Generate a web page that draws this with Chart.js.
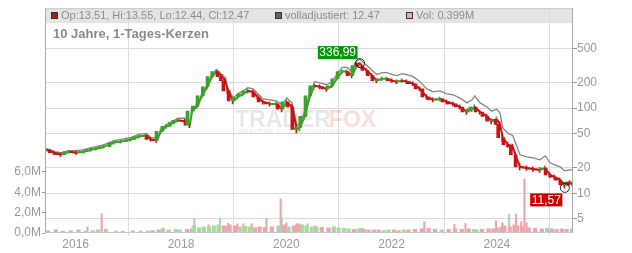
<!DOCTYPE html>
<html>
<head>
<meta charset="utf-8">
<script src="https://cdn.jsdelivr.net/npm/chart.js@4.4.1/dist/chart.umd.min.js"></script>
<style>
  html, body { margin: 0; padding: 0; background: #fff; }
  #wrap { width: 632px; height: 253px; }
</style>
</head>
<body>
<div id="wrap"><canvas id="chart" width="632" height="253"></canvas></div>
<script>
const dates = [
  2015.44, 2015.59, 2015.72, 2015.87,
  2016.02, 2016.16, 2016.29, 2016.39, 2016.54, 2016.73, 2016.86,
  2017.05, 2017.20, 2017.34, 2017.43, 2017.54, 2017.62, 2017.73, 2017.87, 2017.94,
  2018.08, 2018.17, 2018.21, 2018.31, 2018.40, 2018.50, 2018.59, 2018.68, 2018.78, 2018.84, 2018.89, 2018.99,
  2019.08, 2019.18, 2019.27, 2019.37, 2019.46, 2019.56, 2019.69, 2019.82, 2019.92,
  2020.01, 2020.11, 2020.20, 2020.26, 2020.35, 2020.45, 2020.54, 2020.64, 2020.77, 2020.87, 2020.96,
  2021.06, 2021.15, 2021.25, 2021.34, 2021.40, 2021.44, 2021.53, 2021.63, 2021.72, 2021.82, 2021.91,
  2022.01, 2022.10, 2022.20, 2022.29, 2022.41, 2022.54, 2022.67, 2022.79, 2022.92,
  2023.05, 2023.17, 2023.30, 2023.43, 2023.53, 2023.58, 2023.68, 2023.81, 2023.90,
  2024.00, 2024.06, 2024.11, 2024.21, 2024.30, 2024.35, 2024.44, 2024.57, 2024.69, 2024.82, 2024.92,
  2025.01, 2025.10, 2025.20, 2025.29, 2025.39, 2025.44
];
const closes = [
  32.5, 29.9, 28.3, 30.8,
  29.9, 30.8, 32.5, 33.4, 35.3, 39.4, 40.5,
  42.8, 46.4, 47.7, 42.8, 41.6, 53.2, 61.1, 68.1, 72,
  70, 62.8, 92, 105.6, 139, 178, 234, 268, 234, 210, 159, 121,
  135, 147, 159, 155, 135, 118, 112, 112, 97,
  118, 103, 56, 59.4, 80, 139, 183, 178, 168, 183, 221,
  268, 268, 240, 316, 337, 308, 276, 240, 210, 221, 221,
  210, 204, 210, 204, 193, 168, 135, 125, 128,
  118, 112, 103, 90, 97, 103, 90, 80, 70,
  74, 64.5, 45, 37.3, 35.3, 28.3, 20.4, 19.8, 19.3, 18.8, 19.8,
  16.4, 15.5, 14.3, 12.5, 13.5, 12.47
];
// Tageshoch / -tief im Umfeld des jeweiligen Punktes
const highs = [
  34.0, 31.5, 29.8, 32.0,
  31.2, 32.0, 33.8, 34.8, 36.8, 41.0, 42.0,
  44.5, 48.5, 49.5, 45.0, 43.5, 55.5, 64.0, 71.0, 75.0,
  74.0, 67.0, 97.0, 111.0, 147.0, 188.0, 246.0, 285.0, 248.0, 222.0, 170.0, 130.0,
  142.0, 155.0, 167.0, 163.0, 142.0, 124.0, 118.0, 118.0, 104.0,
  124.0, 110.0, 62.0, 64.0, 86.0, 148.0, 192.0, 187.0, 177.0, 192.0, 232.0,
  282.0, 281.0, 253.0, 330.0, 345.0, 322.0, 290.0, 252.0, 221.0, 231.0, 231.0,
  220.0, 214.0, 220.0, 214.0, 203.0, 177.0, 143.0, 132.0, 135.0,
  125.0, 118.0, 109.0, 95.0, 103.0, 109.0, 95.0, 85.0, 75.0,
  79.0, 69.0, 49.0, 40.0, 37.8, 30.5, 22.0, 21.0, 20.5, 20.0, 21.0,
  17.4, 16.4, 15.2, 13.3, 14.2, 13.55
];
const lows = [
  31.0, 28.4, 27.0, 29.4,
  28.5, 29.5, 31.0, 32.0, 33.8, 37.6, 38.8,
  41.0, 44.4, 45.6, 40.8, 39.6, 50.6, 58.0, 65.0, 68.5,
  66.0, 59.0, 86.0, 100.0, 131.0, 168.0, 221.0, 252.0, 220.0, 198.0, 148.0, 112.0,
  127.0, 139.0, 150.0, 146.0, 127.0, 111.0, 105.0, 105.0, 90.0,
  111.0, 96.0, 51.0, 54.0, 74.0, 130.0, 173.0, 168.0, 158.0, 173.0, 209.0,
  254.0, 254.0, 227.0, 300.0, 320.0, 294.0, 262.0, 228.0, 199.0, 210.0, 210.0,
  200.0, 194.0, 200.0, 194.0, 183.0, 159.0, 127.0, 118.0, 121.0,
  111.0, 106.0, 97.0, 84.0, 91.0, 97.0, 85.0, 75.0, 65.0,
  69.0, 60.0, 41.0, 34.5, 32.8, 26.0, 18.8, 18.5, 18.0, 17.6, 18.6,
  15.4, 14.6, 13.4, 11.57, 12.7, 12.44
];
const adjusted = [
  33.4, 30.8, 29.9, 31.6,
  31.6, 32.5, 34.3, 35.3, 37.3, 41.6, 42.8,
  45.2, 49.0, 50.4, 45.2, 44.0, 56.2, 64.5, 72, 76,
  76, 70, 97, 112, 147, 188, 247, 283, 247, 228, 173, 131,
  147, 159, 173, 168, 147, 128, 125, 121, 109,
  131, 115, 63, 66, 90, 155, 204, 198, 188, 204, 247,
  300, 300, 268, 362, 372, 353, 316, 276, 247, 261, 261,
  247, 240, 254, 247, 234, 204, 168, 155, 159,
  147, 143, 131, 115, 125, 139, 115, 103, 92,
  97, 87, 59, 50.4, 47.7, 39.4, 28.3, 26.8, 26.1, 24.7, 27.5,
  22.8, 21.5, 20.4, 18.3, 18.8, 18.8
];
// Volumen in Mio. Stück
const volumes = [
  0.25, 0.3, 0.2, 0.25, 0.3, 0.2, 0.25, 0.3, 0.35, 0.2, 0.2, 0.25,
  0.2, 0.2, 0.25, 0.3, 0.4, 0.3, 0.35,
  0.3, 0.35, 0.4, 0.7, 0.5, 0.6, 0.6, 0.7, 0.8,
  0.7, 0.6, 0.8, 0.7, 0.6, 0.65, 0.6, 0.5, 0.6, 0.55, 0.6, 0.7, 0.8, 0.6, 0.7,
  0.9, 0.8, 0.7, 0.6, 0.6, 0.55, 0.5, 0.6, 0.5,
  0.45, 0.4, 0.35, 0.4, 0.45, 0.35, 0.3, 0.3, 0.3, 0.25, 0.3, 0.3, 0.25, 0.3, 0.3, 0.35,
  0.4, 0.45, 0.35, 0.3, 0.35, 0.4, 0.35, 0.4, 0.35, 0.3, 0.35, 0.4, 0.4, 0.5,
  0.6, 0.7, 0.6, 0.8, 0.7, 0.6, 0.5, 0.45, 0.4, 0.45, 0.4, 0.35, 0.4, 0.35, 0.4, 0.4
];
// einzelne Volumenspitzen
const spikeDates =   [2016.18, 2016.45, 2017.62, 2018.21, 2018.48, 2018.70, 2018.85, 2019.03, 2019.14, 2019.30, 2019.58, 2019.85, 2019.87, 2019.96, 2020.15, 2020.36, 2020.50, 2022.58, 2023.15, 2023.36, 2023.94, 2024.06, 2024.19, 2024.32, 2024.42, 2024.48, 2024.52];
const spikeVolumes = [0.6, 1.9, 0.5, 1.4, 0.8, 1.45, 0.95, 0.9, 0.9, 0.9, 1.45, 3.35, 1.5, 1.0, 0.9, 0.9, 0.7, 1.1, 0.85, 0.95, 1.2, 1.0, 1.8, 1.85, 1.1, 5.3, 1.0];
const spikeUp =      [0, 0, 1, 1, 0, 1, 0, 0, 0, 0, 0, 0, 1, 0, 0, 1, 0, 0, 0, 0, 0, 0, 1, 0, 0, 0, 0];

const yearTicks = [2016, 2018, 2020, 2022, 2024];
const priceTicks = [5, 10, 20, 50, 100, 200, 500];
const volumeTicks = [0, 2, 4, 6];

const peak = { x: 2021.40, y: 336.99, label: '336,99' };
const low = { x: 2025.29, y: 11.57, label: '11,57' };

const RED = '#c81414';
const GREEN = '#3ca02a';
const VOL_RED = '#f2a3ab';
const VOL_GREEN = '#a8d9a0';
const FONT = '"Liberation Sans", Arial, sans-serif';

const isUp = closes.map((c, i) => i === 0 || c >= closes[i - 1]);
const pricePoints = dates.map((d, i) => ({ x: d, y: closes[i] }));
const bodyPoints = dates.map((d, i) => ({ x: d, y: [i === 0 ? closes[0] : closes[i - 1], closes[i]] }));
const wickPoints = dates.map((d, i) => ({ x: d, y: [lows[i], highs[i]] }));
const adjPoints = dates.map((d, i) => ({ x: d, y: adjusted[i] }));
const volPoints = dates.map((d, i) => ({ x: d, y: volumes[i] }));
const candleColors = isUp.map(u => u ? GREEN : RED);
const volColors = isUp.map(u => u ? VOL_GREEN : VOL_RED);
const spikePoints = spikeDates.map((d, i) => ({ x: d, y: spikeVolumes[i] }));

const overlay = {
    id: 'overlay',
    beforeDraw(chart) {
        const { ctx, chartArea: a } = chart;
        ctx.save();
        ctx.fillStyle = '#e4e4e4';
        ctx.fillRect(a.left, a.top, a.right - a.left, 15);
        ctx.restore();
    },
    beforeDatasetsDraw(chart) {
        // Wasserzeichen
        const { ctx } = chart;
        ctx.save();
        ctx.textBaseline = 'alphabetic';
        ctx.font = 'bold 23px ' + FONT;
        ctx.fillStyle = 'rgba(0,0,0,0.095)';
        ctx.fillText('TRADER', 235, 127);
        const w = ctx.measureText('TRADER').width;
        ctx.fillStyle = 'rgba(230,60,60,0.18)';
        ctx.fillText('FOX', 235 + w - 2, 127);
        ctx.font = 'bold 7px ' + FONT;
        ctx.fillStyle = 'rgba(0,0,0,0.08)';
        ctx.fillText('REALTIME STOCK SCREENING', 239, 134);
        ctx.restore();
    },
    afterDraw(chart) {
        const { ctx, chartArea: a, scales } = chart;
        ctx.save();

        // Rahmen
        ctx.strokeStyle = '#c8c8c8';
        ctx.lineWidth = 1;
        ctx.strokeRect(a.left + 0.5, a.top + 0.5, a.right - a.left - 1, a.bottom - a.top - 1);
        ctx.strokeStyle = '#aaa';
        ctx.beginPath();
        ctx.moveTo(a.left + 0.5, a.top);
        ctx.lineTo(a.left + 0.5, a.bottom);
        ctx.moveTo(a.right - 0.5, a.top);
        ctx.lineTo(a.right - 0.5, a.bottom);
        ctx.stroke();

        // Kopfzeile
        const legend = [
            { x: 51, fill: '#b01818', text: 'Op:13.51, Hi:13.55, Lo:12.44, Cl:12.47' },
            { x: 275, fill: '#666666', text: 'volladjustiert: 12.47' },
            { x: 406, fill: '#f2a9b0', text: 'Vol: 0.399M' }
        ];
        ctx.font = '11px ' + FONT;
        ctx.textBaseline = 'middle';
        legend.forEach(l => {
            ctx.fillStyle = l.fill;
            ctx.fillRect(l.x, 12.5, 6, 6);
            ctx.strokeStyle = '#333';
            ctx.strokeRect(l.x + 0.5, 12.5, 6, 6);
            ctx.fillStyle = '#8c8c8c';
            ctx.fillText(l.text, l.x + 10, 16);
        });

        ctx.font = 'bold 13px ' + FONT;
        ctx.fillStyle = '#8a8a8a';
        ctx.fillText('10 Jahre, 1-Tages-Kerzen', 53, 34);

        // Hoch / Tief Markierungen
        const marks = [
            { p: peak, bg: '#009a00', above: true },
            { p: low, bg: '#cc0000', above: false }
        ];
        marks.forEach(m => {
            const px = scales.x.getPixelForValue(m.p.x);
            const py = scales.y.getPixelForValue(m.p.y);
            ctx.strokeStyle = '#222';
            ctx.lineWidth = 1;
            ctx.beginPath();
            ctx.arc(px, py, 4.5, 0, Math.PI * 2);
            ctx.stroke();

            ctx.font = '12px ' + FONT;
            const tw = ctx.measureText(m.p.label).width;
            const bw = tw + 3, bh = 13;
            const bx = px - 2.5 - bw;
            const by = m.above ? py - 4 - bh : py + 5.5;
            ctx.fillStyle = m.bg;
            ctx.fillRect(bx, by, bw, bh);
            ctx.fillStyle = '#fff';
            ctx.textBaseline = 'middle';
            ctx.fillText(m.p.label, bx + 1.5, by + bh / 2 + 0.5);
        });
        ctx.restore();
    }
};

new Chart(document.getElementById('chart'), {
    type: 'line',
    data: {
        datasets: [
            {
                type: 'bar',
                label: 'Kerzenkörper',
                data: bodyPoints,
                yAxisID: 'y',
                backgroundColor: candleColors,
                barThickness: 3,
                order: 0
            },
            {
                type: 'bar',
                label: 'Dochte',
                data: wickPoints,
                yAxisID: 'y',
                backgroundColor: candleColors,
                barThickness: 1,
                order: 0
            },
            {
                label: 'Kurs',
                data: pricePoints,
                yAxisID: 'y',
                borderWidth: 2,
                pointRadius: 0,
                tension: 0,
                order: 1,
                segment: {
                    borderColor: c => c.p1.parsed.y >= c.p0.parsed.y ? GREEN : RED
                }
            },
            {
                label: 'volladjustiert',
                data: adjPoints,
                yAxisID: 'y',
                borderColor: '#858585',
                borderWidth: 1.3,
                pointRadius: 0,
                tension: 0,
                order: 2
            },
            {
                type: 'bar',
                label: 'Vol',
                data: volPoints,
                yAxisID: 'yv',
                backgroundColor: volColors,
                barThickness: 3.5,
                order: 3
            },
            {
                type: 'bar',
                label: 'Vol Spitzen',
                data: spikePoints,
                yAxisID: 'yv',
                backgroundColor: spikeUp.map(u => u ? VOL_GREEN : VOL_RED),
                barThickness: 1.5,
                order: 3
            }
        ]
    },
    options: {
        responsive: false,
        devicePixelRatio: 1,
        animation: false,
        layout: { padding: { top: 8, left: 0, right: 0, bottom: 0 } },
        plugins: {
            legend: { display: false },
            tooltip: { enabled: false }
        },
        scales: {
            x: {
                type: 'linear',
                min: 2015.417,
                max: 2025.445,
                offset: false,
                afterBuildTicks: s => { s.ticks = yearTicks.map(v => ({ value: v })); },
                afterFit: s => { s.height = 20; },
                grid: { color: '#dcdcdc', tickLength: 3, tickColor: '#dcdcdc' },
                border: { display: false },
                ticks: {
                    color: '#9a9a9a',
                    font: { family: FONT, size: 12 },
                    padding: 1,
                    maxRotation: 0,
                    callback: v => String(v)
                }
            },
            y: {
                type: 'logarithmic',
                position: 'right',
                min: 3.42,
                max: 1486,
                afterBuildTicks: s => { s.ticks = priceTicks.map(v => ({ value: v })); },
                afterFit: s => { s.width = 59; },
                grid: { color: '#dcdcdc', tickLength: 4, tickColor: '#999' },
                border: { display: false },
                ticks: {
                    color: '#9a9a9a',
                    font: { family: FONT, size: 12 },
                    padding: 0,
                    callback: v => String(v)
                }
            },
            yv: {
                type: 'linear',
                position: 'left',
                min: 0,
                max: 22.1,
                afterBuildTicks: s => { s.ticks = volumeTicks.map(v => ({ value: v })); },
                afterFit: s => { s.width = 45; },
                grid: { drawOnChartArea: false, tickLength: 3, tickColor: '#999' },
                border: { display: false },
                ticks: {
                    color: '#9a9a9a',
                    font: { family: FONT, size: 12 },
                    padding: 1,
                    callback: v => v.toFixed(1).replace('.', ',') + 'M'
                }
            }
        }
    },
    plugins: [overlay]
});
</script>
</body>
</html>
